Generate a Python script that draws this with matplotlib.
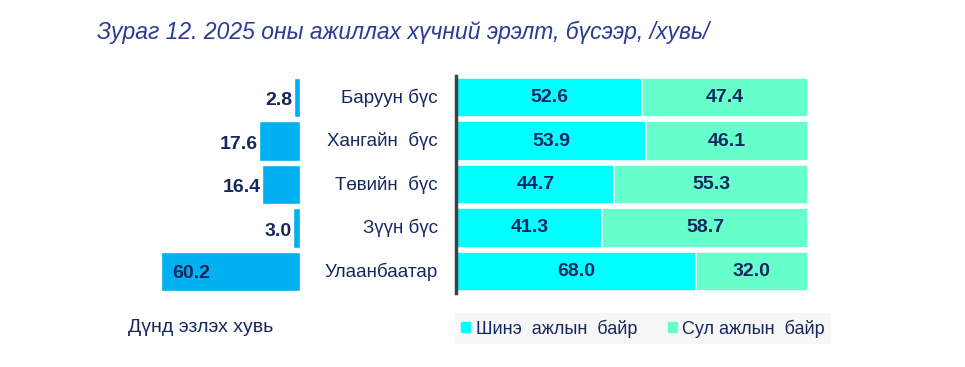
import numpy as np
import matplotlib.pyplot as plt
import matplotlib.patches as mpatches

plt.rcParams['font.family'] = ['Liberation Sans', 'DejaVu Sans']

# data
regions = ['Баруун бүс', 'Хангайн  бүс', 'Төвийн  бүс', 'Зүүн бүс', 'Улаанбаатар']
share = [2.8, 17.6, 16.4, 3.0, 60.2]
new_jobs = [52.6, 53.9, 44.7, 41.3, 68.0]
vacant = [47.4, 46.1, 55.3, 58.7, 32.0]
legend_labels = ['Шинэ  ажлын  байр', 'Сул ажлын  байр']
title = 'Зураг 12. 2025 оны ажиллах хүчний эрэлт, бүсээр, /хувь/'
left_label = 'Дүнд эзлэх хувь'

navy = '#16275F'
c_share = '#00B0F0'
c_new = '#00FFFF'
c_vac = '#66FFCC'

W, H = 965, 367
fig = plt.figure(figsize=(W / 100, H / 100), dpi=100)

y = np.arange(len(regions))
bot = (H - 293.25) / H
hgt = 217.5 / H

# left: share bars
axl = fig.add_axes([150 / W, bot, 150 / W, hgt])
axl.barh(y, share, height=0.9, color=c_share, edgecolor='white', linewidth=1)
axl.set_xlim(65, 0)
axl.set_ylim(len(regions) - 0.5, -0.5)
axl.axis('off')
for i, v in enumerate(share):
    if v > 40:
        axl.text(v - 5, i + 0.05, f'{v:.1f}', ha='left', va='center', fontsize=14,
                 fontweight='bold', color=navy)
    else:
        axl.text(v + 0.6, i + 0.08, f'{v:.1f}', ha='right', va='center', fontsize=14,
                 fontweight='bold', color=navy)

# category labels
for i, r in enumerate(regions):
    fig.text(438 / W, bot + hgt * (1 - (i + 0.5) / len(regions)), r,
             ha='right', va='center', fontsize=13.5, color=navy)

# right: stacked 100% bars
axr = fig.add_axes([457 / W, bot, 351 / W, hgt])
axr.barh(y, new_jobs, height=0.9, color=c_new, edgecolor='white', linewidth=1.2)
axr.barh(y, vacant, left=new_jobs, height=0.9, color=c_vac, edgecolor='white', linewidth=1.2)
axr.set_xlim(0, 100)
axr.set_ylim(len(regions) - 0.5, -0.5)
for i in range(len(regions)):
    axr.text(new_jobs[i] / 2, i, f'{new_jobs[i]:.1f}', ha='center', va='center',
             fontsize=14, fontweight='bold', color=navy)
    axr.text(new_jobs[i] + vacant[i] / 2, i, f'{vacant[i]:.1f}', ha='center', va='center',
             fontsize=14, fontweight='bold', color=navy)
axr.set_xticks([])
axr.set_yticks([])
for s in ['top', 'right', 'bottom']:
    axr.spines[s].set_visible(False)
axr.spines['left'].set_color('#404040')
axr.spines['left'].set_linewidth(2.5)
axr.spines['left'].set_position(('outward', 1))

# legend
handles = [mpatches.Patch(color=c_new), mpatches.Patch(color=c_vac)]
leg = fig.legend(handles, legend_labels, loc='center', bbox_to_anchor=(643 / W, 1 - 328.5 / H),
                 ncol=2, frameon=True, fancybox=False, facecolor='#F6F6F6', edgecolor='none',
                 handlelength=0.5, handleheight=0.5, handletextpad=0.3, columnspacing=1.7,
                 borderpad=0.35, prop={'size': 13})
for t in leg.get_texts():
    t.set_color(navy)

fig.text(201 / W, 1 - 328 / H, left_label, ha='center', va='center', fontsize=14, color=navy)
fig.text(97 / W, 1 - 32 / H, title, ha='left', va='center', fontsize=16.5,
         style='italic', color='#2B3A92')

fig.savefig('out.png', dpi=100)
